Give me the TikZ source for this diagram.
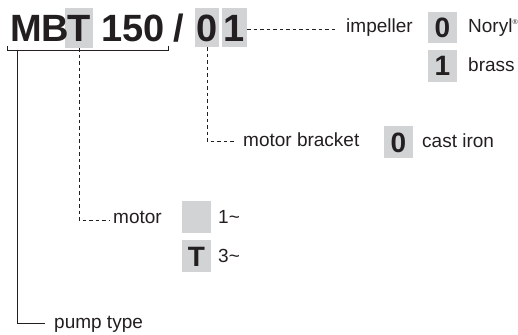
\documentclass[tikz,border=0pt]{standalone}
\usepackage{fontspec}
\setmainfont{Liberation Sans}
\definecolor{ink}{HTML}{231F20}
\definecolor{boxgray}{HTML}{D1D3D4}
\begin{document}
\begin{tikzpicture}[x=1pt,y=-1pt,
  graybox/.style={fill=boxgray,draw=none,inner sep=0pt},
  title/.style={inner sep=0pt,text=ink,font=\fontsize{38}{40}\selectfont\bfseries},
  code/.style={inner sep=0pt,text=ink,font=\fontsize{28}{30}\selectfont\bfseries},
  lbl/.style={inner sep=0pt,text=ink,font=\fontsize{19}{22}\selectfont,anchor=base west},
  solidline/.style={draw=ink,line width=0.9pt},
  dashline/.style={draw=ink,line width=0.8pt,dash pattern=on 3.5pt off 3pt}]
\useasboundingbox (0,0) rectangle (518,334);
% gray boxes of the title
\node[graybox,minimum width=28pt,minimum height=40pt] (tbox) at (79,28) {};
\node[graybox,minimum width=24pt,minimum height=39pt] (zbox) at (207,27.5) {};
\node[graybox,minimum width=25pt,minimum height=39pt] (obox) at (234.5,27.5) {};
% title
\node[title,anchor=base west] (mb) at (10,42) {MB};
\node[title,anchor=base] (t) at (79,42) {T};
\node[title,anchor=base west] (num) at (101,42) {150};
\node[title,anchor=base] (slash) at (179,42) {/};
\node[title,anchor=base] (zero) at (207,42) {0};
\node[title,anchor=base] (one) at (234.5,42) {1};
% bracket + pump type
\coordinate (bl) at (7,46);
\coordinate (br) at (168,46);
\draw[solidline] (bl) -- (7,50) -- (168,50) -- (br);
\coordinate (ptop) at (17,50);
\coordinate (pend) at (45,323);
\draw[solidline] (ptop) |- (pend);
\node[lbl] (pump) at (54,328) {pump type};
% motor
\coordinate (mend) at (110,220);
\draw[dashline] (tbox.south) |- (mend);
\node[lbl] (motor) at (113,223) {motor};
\node[graybox,minimum width=29pt,minimum height=32pt] (m1box) at (196.5,217) {};
\node[lbl] (m1) at (218,223) {1\textasciitilde};
\node[graybox,minimum width=29pt,minimum height=32pt] (m3box) at (196.5,256) {};
\node[code,anchor=base] (m3code) at (196.5,266) {T};
\node[lbl] (m3) at (218,262) {3\textasciitilde};
% motor bracket
\coordinate (bend) at (236,141);
\draw[dashline] (zbox.south) |- (bend);
\node[lbl] (bracket) at (243,146) {motor bracket};
\node[graybox,minimum width=29pt,minimum height=32pt] (cibox) at (398.5,142) {};
\node[code,anchor=base] (cicode) at (398.5,152) {0};
\node[lbl] (ci) at (422,147) {cast iron};
% impeller
\coordinate (iend) at (335,29);
\draw[dashline] (obox.east |- iend) -- (iend);
\node[lbl] (imp) at (346,33) {impeller};
\node[graybox,minimum width=29pt,minimum height=31pt] (nbox) at (442.5,27.5) {};
\node[code,anchor=base] (ncode) at (442.5,37.5) {0};
\node[lbl] (noryl) at (468,33) {Noryl\raisebox{8pt}{\fontsize{7}{7}\selectfont ®}};
\node[graybox,minimum width=29pt,minimum height=32pt] (bbox) at (442.5,66) {};
\node[code,anchor=base] (bcode) at (442.5,76) {1};
\node[lbl] (brass) at (468,72) {brass};
\end{tikzpicture}
\end{document}
